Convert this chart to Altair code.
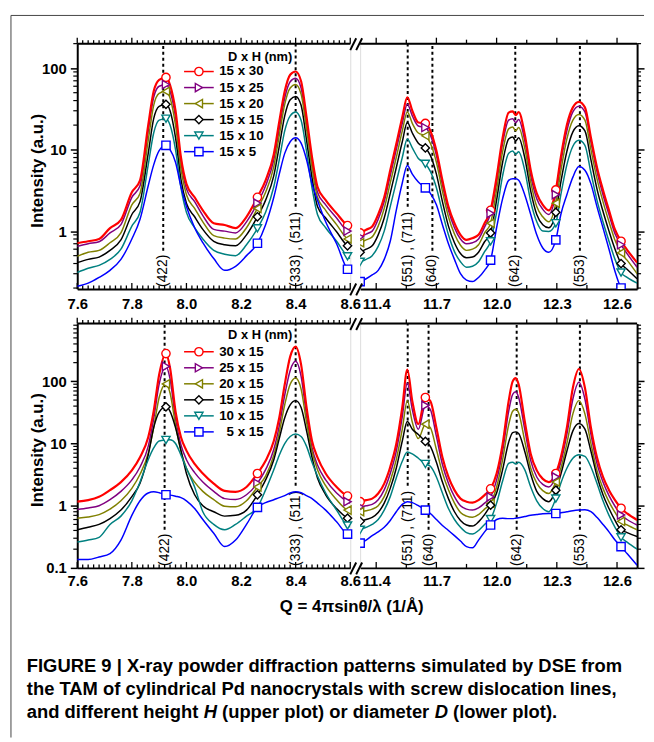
import altair as alt
import pandas as pd

FONT = "Liberation Sans, Arial, Helvetica, sans-serif"

# ---------------- text / categories ----------------
LEGEND_TOP = ["15 x 30", "15 x 25", "15 x 20", "15 x 15", "15 x 10", "15 x 5"]
LEGEND_BOTTOM = ["30 x 15", "25 x 15", "20 x 15", "15 x 15", "10 x 15", "5 x 15"]
LEGEND_TITLE = "D x H (nm)"
COLORS = ["#ff0000", "#800080", "#808000", "#000000", "#008080", "#0000ff"]
SHAPES = ["circle", "triangle-right", "triangle-left", "diamond", "triangle-down", "square"]
X_TITLE = "Q = 4\u03c0sin\u03b8/\u03bb (1/\u00c5)"
Y_TITLE = "Intensity (a.u.)"
CAPTION_1 = "FIGURE 9 | X-ray powder diffraction patterns simulated by DSE from"
CAPTION_2 = "the TAM of cylindrical Pd nanocrystals with screw dislocation lines,"
CAPTION_3 = ["and different height ", "H", " (upper plot) or diameter ", "D", " (lower plot)."]

X_LABELS_LEFT = [7.6, 7.8, 8.0, 8.2, 8.4, 8.6]
X_LABELS_RIGHT = [11.4, 11.7, 12.0, 12.3, 12.6]
Y_LABELS_TOP = [1, 10, 100]
Y_LABELS_BOTTOM = [0.1, 1, 10, 100]

PEAK_LABELS_LEFT = ["(422)", "(333) , (511)"]
PEAK_LABELS_RIGHT = ["(551) , (711)", "(640)", "(642)", "(553)"]
PEAK_Q_TOP_LEFT = [7.915, 8.40]
PEAK_Q_TOP_RIGHT = [11.557, 11.68, 12.093, 12.415]
PEAK_Q_BOT_LEFT = [7.92, 8.40]
PEAK_Q_BOT_RIGHT = [11.557, 11.661, 12.10, 12.415]

# ---------------- x grids ----------------
Q_LEFT = [7.60, 7.64, 7.68, 7.72, 7.76, 7.80, 7.83, 7.86, 7.88, 7.90, 7.925, 7.94, 7.96, 7.98,
          8.00, 8.03, 8.06, 8.10, 8.14, 8.18, 8.22, 8.26, 8.29, 8.32, 8.34, 8.36, 8.38, 8.40,
          8.42, 8.44, 8.46, 8.48, 8.51, 8.55, 8.59, 8.60]
Q_RIGHT = [11.32, 11.35, 11.38, 11.41, 11.44, 11.47, 11.50, 11.53, 11.555, 11.58, 11.61, 11.645,
           11.67, 11.70, 11.73, 11.76, 11.79, 11.82, 11.85, 11.88, 11.91, 11.94, 11.97, 12.00,
           12.03, 12.06, 12.08, 12.095, 12.11, 12.14, 12.17, 12.20, 12.23, 12.26, 12.295, 12.32,
           12.35, 12.38, 12.41, 12.44, 12.47, 12.50, 12.53, 12.56, 12.59, 12.62, 12.65, 12.70]
MARKERS_LEFT = [7.925, 8.26, 8.59]
MARKERS_RIGHT = [11.32, 11.645, 11.97, 12.295, 12.62]

# ---------------- upper plot (D = 15 nm, varying H) ----------------
TL_RED = [0.71, 0.75, 0.80, 1.09, 1.37, 3.0, 4.2, 20, 52, 72, 77, 62, 30, 8, 3.8, 2.6, 1.8, 1.25,
          1.19, 1.09, 1.5, 2.6, 4.2, 8.8, 22, 52, 83, 91, 69, 25, 8.1, 3.5, 2.4, 1.65, 1.17, 1.12]
TL_PURPLE = [0.65, 0.70, 0.74, 0.95, 1.2, 2.6, 3.6, 17, 44, 60, 63, 52, 25, 7, 3.3, 2.3, 1.55, 1.05,
             1.0, 0.95, 1.3, 2.2, 3.6, 7.5, 18, 43, 68, 75, 57, 21, 7, 3.0, 2.1, 1.45, 1.0, 0.97]
TL_OLIVE = [0.49, 0.55, 0.58, 0.72, 0.95, 2.1, 2.9, 13, 35, 49, 52, 43, 20, 5.8, 2.8, 1.9, 1.3, 0.88,
            0.82, 0.80, 1.1, 1.9, 3.0, 6.2, 15, 36, 57, 63, 48, 18, 6, 2.6, 1.8, 1.2, 0.8, 0.77]
TL_BLACK = [0.41, 0.45, 0.48, 0.58, 0.78, 1.6, 2.3, 9, 24, 34, 36, 30, 14, 4.3, 2.2, 1.5, 1.05, 0.75,
            0.68, 0.66, 0.9, 1.5, 2.4, 4.8, 11, 26, 41, 45, 35, 13, 4.5, 2.0, 1.45, 0.98, 0.66, 0.63]
TL_TEAL = [0.31, 0.35, 0.38, 0.45, 0.6, 1.15, 1.7, 6.5, 16, 23, 24, 20, 10, 3.4, 1.7, 1.1, 0.8, 0.58,
           0.52, 0.5, 0.68, 1.08, 1.7, 3.5, 7.5, 17, 26, 29, 23, 9.5, 3.4, 1.6, 1.1, 0.75, 0.49, 0.46]
TL_BLUE = [0.21, 0.23, 0.27, 0.33, 0.45, 0.8, 1.4, 3.6, 6.5, 9.7, 11.3, 10, 7, 3.5, 2.0, 1.1, 0.72, 0.46,
           0.33, 0.37, 0.5, 0.71, 1.2, 2.6, 5, 9, 12.5, 14, 12, 7.5, 3.8, 2.4, 1.3, 0.7, 0.34, 0.32]

TR_RED = [0.95, 1.04, 1.14, 1.6, 2.6, 5.6, 11.7, 25, 44, 30, 21.5, 21, 17, 9.7, 4.2, 2.0, 1.25, 0.9,
          0.78, 0.82, 0.9, 1.25, 1.8, 4.6, 14, 28.5, 29.5, 26.5, 29, 15.5, 5.6, 2.9, 2.1, 1.8, 3.2,
          8.1, 20, 33, 38.5, 33, 14, 6.1, 3.2, 1.8, 1.04, 0.75, 0.59, 0.41]
TR_PURPLE = [0.85, 0.92, 1.0, 1.4, 2.3, 4.8, 10, 21, 36, 26, 19.5, 18.7, 15, 8.5, 3.7, 1.8, 1.1, 0.8,
             0.7, 0.72, 0.8, 1.12, 1.65, 4.0, 12, 23, 24, 21.5, 23.5, 13, 4.8, 2.5, 1.85, 1.6, 2.8,
             7, 17, 29, 34, 29, 12.5, 5.4, 2.8, 1.6, 0.93, 0.68, 0.53, 0.36]
TR_OLIVE = [0.72, 0.78, 0.85, 1.15, 1.9, 3.9, 8, 17, 29, 21, 16, 14.8, 12, 7, 3.1, 1.5, 0.92, 0.67,
            0.58, 0.6, 0.68, 0.95, 1.25, 3.2, 9.5, 18, 19, 17, 18.7, 10.5, 4.0, 2.0, 1.5, 1.3, 2.2,
            5.5, 13.5, 23, 27, 23, 10, 4.4, 2.3, 1.3, 0.77, 0.54, 0.44, 0.30]
TR_BLACK = [0.55, 0.60, 0.66, 0.9, 1.45, 2.9, 6, 12.5, 21.5, 16, 12, 10.5, 8.5, 5, 2.3, 1.15, 0.72, 0.53,
            0.47, 0.48, 0.55, 0.74, 0.95, 2.4, 7, 13.5, 14.3, 12.8, 14, 8, 3.1, 1.6, 1.2, 1.1, 1.7,
            4.0, 9.5, 16.5, 19.6, 17, 7.5, 3.3, 1.75, 1.0, 0.6, 0.40, 0.34, 0.26]
TR_TEAL = [0.42, 0.45, 0.50, 0.65, 1.0, 2.0, 4.0, 8.0, 13.5, 10.5, 7.8, 6.7, 5.4, 3.4, 1.7, 0.9, 0.56, 0.42,
           0.36, 0.37, 0.42, 0.56, 0.75, 1.7, 4.8, 9.0, 9.6, 8.8, 9.4, 5.6, 2.3, 1.3, 1.0, 0.99, 1.25,
           2.8, 6.5, 11, 13, 11.3, 5.2, 2.4, 1.3, 0.75, 0.45, 0.31, 0.27, 0.23]
TR_BLUE = [0.24, 0.26, 0.29, 0.33, 0.45, 0.75, 1.8, 3.9, 6.4, 5.0, 4.0, 3.4, 2.9, 2.1, 1.2, 0.7, 0.45, 0.3,
           0.25, 0.24, 0.27, 0.33, 0.44, 1.1, 2.5, 4.2, 4.4, 4.4, 4.2, 2.8, 1.6, 0.9, 0.62, 0.55, 0.78,
           1.6, 2.8, 4.6, 6.2, 5.6, 3.8, 2.0, 1.1, 0.6, 0.32, 0.20, 0.17, 0.15]

# ---------------- lower plot (H = 15 nm, varying D) ----------------
BL_RED = [1.16, 1.23, 1.39, 1.78, 2.4, 3.7, 6.0, 12.6, 33, 128, 280, 164, 33, 12.6, 7.7, 4.7, 3.3, 2.27,
          1.73, 1.67, 2.0, 3.3, 5.3, 11, 26, 89, 250, 363, 186, 38, 11, 6.0, 3.3, 2.0, 1.43, 1.38]
BL_PURPLE = [0.87, 0.92, 1.0, 1.25, 1.7, 2.6, 4.2, 9, 25, 90, 174, 110, 25, 9.5, 5.5, 3.4, 2.4, 1.7,
             1.3, 1.26, 1.5, 2.3, 3.8, 8, 19, 60, 150, 210, 120, 28, 8.5, 4.5, 2.6, 1.6, 1.16, 1.1]
BL_OLIVE = [0.63, 0.66, 0.72, 0.88, 1.2, 1.9, 3.2, 7, 18, 55, 91, 65, 20, 7.5, 4.0, 2.4, 1.7, 1.25,
            0.98, 0.96, 1.2, 2.0, 3.0, 6.5, 15, 42, 90, 113, 75, 22, 7.5, 3.8, 2.1, 1.25, 0.85, 0.82]
BL_BLACK = [0.41, 0.45, 0.5, 0.62, 0.85, 1.4, 2.3, 6.5, 18, 32, 39, 33, 18, 7.7, 3.3, 1.5, 1.0, 0.8,
            0.68, 0.7, 0.85, 1.5, 2.6, 5.5, 12, 26, 42, 49, 38, 16, 6, 2.8, 1.5, 0.9, 0.63, 0.6]
BL_TEAL = [0.26, 0.28, 0.31, 0.5, 0.68, 1.2, 2.4, 5.5, 8.5, 11, 11.4, 11.5, 10, 6.5, 4.0, 2.0, 0.8, 0.5,
           0.41, 0.5, 0.68, 0.94, 1.8, 3.8, 6.5, 10, 13, 14.2, 13, 9, 5, 3.0, 1.6, 0.85, 0.48, 0.46]
BL_BLUE = [0.136, 0.136, 0.15, 0.17, 0.28, 0.7, 1.2, 1.6, 1.67, 1.62, 1.5, 1.48, 1.42, 1.35, 1.2, 0.9,
           0.6, 0.36, 0.22, 0.28, 0.5, 0.94, 1.12, 1.25, 1.35, 1.45, 1.6, 1.67, 1.62, 1.45, 1.3, 1.1,
           0.85, 0.55, 0.35, 0.34]

BR_RED = [1.16, 1.23, 1.3, 1.57, 2.27, 4.2, 9.8, 38, 154, 48, 20.5, 55, 48, 18, 6.0, 2.9, 1.78, 1.3,
          1.16, 1.12, 1.23, 1.48, 1.87, 3.3, 9.8, 48, 100, 113, 89, 23, 6.8, 3.7, 2.7, 2.4, 3.3, 6.0,
          18, 79, 158, 79, 18, 6.0, 2.9, 1.78, 1.23, 0.91, 0.75, 0.59]
BR_PURPLE = [0.96, 1.0, 1.05, 1.25, 1.8, 3.3, 7.5, 27, 94, 35, 17, 41, 35, 13, 4.6, 2.3, 1.4, 1.0,
             0.88, 0.85, 0.92, 1.1, 1.39, 2.6, 7.5, 33, 62, 68, 55, 17, 5.3, 2.9, 2.2, 2.0, 2.9, 5,
             14, 52, 97, 52, 14, 4.8, 2.4, 1.45, 0.98, 0.71, 0.6, 0.49]
BR_OLIVE = [0.8, 0.83, 0.88, 1.0, 1.4, 2.5, 5.5, 17, 49, 22, 12, 20.5, 18, 8, 3.4, 1.8, 1.1, 0.78,
            0.68, 0.65, 0.72, 0.88, 1.09, 2.0, 5.5, 20, 33, 35.5, 31, 11, 4.0, 2.3, 1.75, 1.57, 2.4,
            4.0, 10, 30, 49, 30, 10, 3.7, 1.9, 1.15, 0.78, 0.56, 0.49, 0.41]
BR_BLACK = [0.56, 0.6, 0.65, 0.78, 1.1, 1.9, 4.0, 11, 22.6, 17, 14, 10.8, 9, 5, 2.4, 1.3, 0.8, 0.58,
            0.49, 0.47, 0.55, 0.72, 1.02, 1.6, 3.8, 10.5, 15, 15.4, 14.5, 7.5, 3.2, 1.7, 1.3, 1.16,
            1.78, 3.2, 7.5, 16, 21, 17, 7.5, 3.0, 1.5, 0.9, 0.58, 0.41, 0.37, 0.32]
BR_TEAL = [0.41, 0.45, 0.5, 0.6, 0.85, 1.4, 2.8, 5.2, 7.3, 6.8, 5.8, 4.7, 4.3, 2.9, 1.6, 0.9, 0.6, 0.45,
           0.37, 0.35, 0.4, 0.5, 0.61, 1.1, 2.5, 4.8, 5.0, 4.7, 5.0, 3.8, 2.0, 1.2, 0.9, 0.8, 1.3, 2.3,
           4.0, 5.8, 6.6, 6.2, 4.2, 2.3, 1.2, 0.7, 0.45, 0.31, 0.26, 0.20]
BR_BLUE = [0.25, 0.28, 0.33, 0.38, 0.45, 0.58, 0.8, 1.05, 1.16, 1.12, 1.0, 0.85, 0.75, 0.6, 0.48, 0.4,
           0.33, 0.27, 0.22, 0.21, 0.28, 0.38, 0.49, 0.6, 0.63, 0.62, 0.62, 0.63, 0.64, 0.67, 0.7, 0.72,
           0.74, 0.75, 0.75, 0.77, 0.8, 0.83, 0.85, 0.86, 0.8, 0.65, 0.5, 0.38, 0.28, 0.22, 0.17, 0.11]

# ---------------- layout ----------------
KEYS = ["s0", "s1", "s2", "s3", "s4", "s5"]
W_L, W_R, GAP = 276, 280, 10
H_T, H_B, VGAP = 248, 247, 35
X_DOM_LEFT = [7.6, 8.6]
X_DOM_RIGHT = [11.32, 12.70]
Y_DOM_TOP = [0.195, 200]
Y_DOM_BOTTOM = [0.1, 850]

ONE = pd.DataFrame({"a": [0]})
COLOR = alt.Color("k:N", scale=alt.Scale(domain=KEYS, range=COLORS), legend=None)
SHAPE = alt.Shape("k:N", scale=alt.Scale(domain=KEYS, range=SHAPES), legend=None)

ARIAL_B = {"a": 556, "b": 611, "c": 556, "d": 611, "e": 556, "f": 333, "g": 611, "h": 611, "i": 278,
           "l": 278, "m": 889, "n": 611, "o": 611, "p": 611, "r": 389, "s": 556, "t": 333, "u": 611,
           "w": 778, "x": 556, "y": 556, " ": 278, "(": 333, ")": 333, ".": 278, "H": 722, "D": 722}


def text_w(s, size, table=None):
    if table is None:
        table = {"(": 333, ")": 333, ",": 278, " ": 278}
    return sum(table.get(c, 556) for c in s) * size / 1000.0


def long_df(q, curves, markers):
    rows = []
    for k, vals in enumerate(curves):
        assert len(vals) == len(q), (k, len(vals), len(q))
        for qq, v in zip(q, vals):
            rows.append({"Q": qq, "I": v, "k": KEYS[k], "m": qq in markers})
    return pd.DataFrame(rows)


def txt(s, x, y, size, weight="bold", align="left", style="normal", baseline="middle"):
    return alt.Chart(ONE).mark_text(text=s, align=align, baseline=baseline, font=FONT, fontSize=size,
                                    fontWeight=weight, fontStyle=style, color="black").encode(
        x=alt.value(x), y=alt.value(y))


def seg(x, y, x2, y2, w=2.0, color="black"):
    return alt.Chart(ONE).mark_rule(color=color, strokeWidth=w).encode(
        x=alt.value(x), y=alt.value(y), x2=alt.value(x2), y2=alt.value(y2))


def minor_log(dom):
    out = []
    for e in (-1, 0, 1, 2):
        for m in range(2, 10):
            v = m * 10 ** e
            if dom[0] <= v <= dom[1]:
                out.append(v)
    return out


def panel(side, q, curves, markers, ydom, ylabels, peaks_q, H, legend_labels=None,
          legend_align="left", legend_x=0, leg_title_y=0, leg_row0=0, label_pad=8, extra=None):
    W = W_L if side == "left" else W_R
    xdom = X_DOM_LEFT if side == "left" else X_DOM_RIGHT
    xlabels = X_LABELS_LEFT if side == "left" else X_LABELS_RIGHT
    peak_labels = PEAK_LABELS_LEFT if side == "left" else PEAK_LABELS_RIGHT
    if side == "left":
        xt_all = [round(7.6 + 0.02 * i, 2) for i in range(51)]
    else:
        xt_all = [round(11.4 + 0.15 * i, 2) for i in range(9)]

    df = long_df(q, curves, markers)
    X = alt.X("Q:Q", scale=alt.Scale(domain=xdom, nice=False, zero=False),
              axis=alt.Axis(values=xlabels, format=".1f", ticks=False, tickSize=0, domainWidth=2,
                            domainColor="black", labelFont=FONT, labelFontSize=15,
                            labelFontWeight="bold", labelColor="black", labelPadding=label_pad,
                            labelFlush=False, labelOverlap=False, grid=False, title=None))
    if side == "left":
        yax = alt.Axis(values=ylabels, format="~g", orient="left", tickSize=7, tickWidth=1.5,
                       tickColor="black", domainWidth=2, domainColor="black", labelFont=FONT,
                       labelFontSize=15, labelFontWeight="bold", labelColor="black", labelPadding=4,
                       grid=False, title=Y_TITLE, titleFont=FONT, titleFontSize=17,
                       titleFontWeight="bold", titleColor="black", titleX=-40, titleY=H / 2 + 4,
                       titleBaseline="middle", titleAlign="center")
    else:
        yax = alt.Axis(values=ylabels, orient="right", labels=False, tickSize=7, tickWidth=1.5,
                       tickColor="black", domainWidth=2, domainColor="black", grid=False, title=None)
    Y = alt.Y("I:Q", scale=alt.Scale(type="log", domain=ydom, nice=False), axis=yax)

    layers = []
    layers.append(alt.Chart(ONE).mark_rule(color="black", strokeWidth=2).encode(
        x=alt.value(0), x2=alt.value(W), y=alt.value(0)))
    tdf = pd.DataFrame({"Q": xt_all})
    tdf["major"] = [any(abs(v - m) < 1e-9 for m in xlabels) for v in xt_all]
    small = 3.5 if side == "left" else 4
    layers.append(alt.Chart(tdf).transform_calculate(ty=f"datum.major ? -6 : -{small}").mark_rule(
        color="black", strokeWidth=1.3).encode(x=X, y=alt.Y("ty:Q", scale=None), y2=alt.value(0)))
    layers.append(alt.Chart(tdf).transform_calculate(ty=f"datum.major ? {H - 6} : {H - small}").mark_rule(
        color="black", strokeWidth=1.3).encode(x=X, y=alt.Y("ty:Q", scale=None), y2=alt.value(H)))
    ydf = pd.DataFrame({"I": minor_log(ydom)})
    if side == "left":
        layers.append(alt.Chart(ydf).transform_calculate(tx="-4").mark_rule(
            color="black", strokeWidth=1.2).encode(x=alt.X("tx:Q", scale=None), x2=alt.value(0), y=Y))
    else:
        layers.append(alt.Chart(ydf).transform_calculate(tx=str(W + 4)).mark_rule(
            color="black", strokeWidth=1.2).encode(x=alt.X("tx:Q", scale=None), x2=alt.value(W), y=Y))
    pdf = pd.DataFrame({"Q": peaks_q, "lab": peak_labels})
    pdf["yend"] = [H - 2 - text_w(l, 14) - 4 for l in peak_labels]
    layers.append(alt.Chart(pdf).mark_rule(color="black", strokeWidth=2, strokeDash=[3, 3]).encode(
        x=X, y=alt.Y("yend:Q", scale=None), y2=alt.value(0)))
    layers.append(alt.Chart(pdf).mark_text(angle=270, align="left", baseline="middle", font=FONT,
                                           fontSize=14, color="black").encode(
        x=X, y=alt.value(H - 2), text="lab:N"))
    layers.append(alt.Chart(df).transform_filter("datum.k != 's0'").mark_line(
        clip=True, strokeWidth=1.5, interpolate="monotone").encode(x=X, y=Y, color=COLOR))
    layers.append(alt.Chart(df).transform_filter("datum.k == 's0'").mark_line(
        clip=True, strokeWidth=2.2, interpolate="monotone").encode(x=X, y=Y, color=COLOR))
    layers.append(alt.Chart(df).transform_filter("datum.m").mark_point(
        filled=False, fill="white", fillOpacity=1, size=70, strokeWidth=1.4, opacity=1,
        clip=(side == "right")).encode(x=X, y=Y, color=COLOR, shape=SHAPE))

    if side == "right":
        for yy in (0, H):
            layers.append(seg(-10, yy + 6.5, -4, yy - 5.5))
            layers.append(seg(-4, yy + 6.5, 2, yy - 5.5))

    if legend_labels is not None:
        ldf = pd.DataFrame({"k": KEYS, "lab": legend_labels, "idx": list(range(6))})
        lb = alt.Chart(ldf).transform_calculate(py=f"{leg_row0} + datum.idx * 16.2")
        layers.append(lb.mark_rule(strokeWidth=1.5).encode(
            x=alt.value(108), x2=alt.value(138), y=alt.Y("py:Q", scale=None), color=COLOR))
        layers.append(lb.mark_point(filled=False, fill="white", fillOpacity=1, size=70,
                                    strokeWidth=1.4, opacity=1).encode(
            x=alt.value(123), y=alt.Y("py:Q", scale=None), color=COLOR, shape=SHAPE))
        layers.append(lb.mark_text(align=legend_align, baseline="middle", font=FONT, fontSize=13.5,
                                   fontWeight="bold", color="black").encode(
            x=alt.value(legend_x), y=alt.Y("py:Q", scale=None), text="lab:N"))
        layers.append(txt(LEGEND_TITLE, 152.5, leg_title_y, 13))
    if extra:
        layers.extend(extra)
    return alt.layer(*layers).properties(width=W, height=H)


frame = [
    alt.Chart(ONE).mark_rule(color="#444", strokeWidth=1).encode(
        x=alt.value(-67), y=alt.value(-28.5), y2=alt.value(701.5)),
    alt.Chart(ONE).mark_rule(color="#444", strokeWidth=1).encode(
        x=alt.value(-67), x2=alt.value(573), y=alt.value(-28.5)),
]

CAP_X, CAP_SIZE = -51, 18.6
parts = CAPTION_3
x_H = CAP_X + text_w(parts[0], CAP_SIZE, ARIAL_B)
x_s3 = x_H + text_w("H ", CAP_SIZE, ARIAL_B)
x_D = x_H + text_w("H" + parts[2], CAP_SIZE, ARIAL_B)
x_s5 = x_D + text_w("D ", CAP_SIZE, ARIAL_B)
captions = [
    txt(X_TITLE, 277.5, 286.5, 17, align="center"),
    txt(CAPTION_1, CAP_X, 346.5, CAP_SIZE),
    txt(CAPTION_2, CAP_X, 369.5, CAP_SIZE),
    txt(parts[0].strip(), CAP_X, 392.5, CAP_SIZE),
    txt(parts[1], x_H, 392.5, CAP_SIZE, style="italic"),
    txt(parts[2].strip(), x_s3, 392.5, CAP_SIZE),
    txt(parts[3], x_D, 392.5, CAP_SIZE, style="italic"),
    txt(parts[4].strip(), x_s5, 392.5, CAP_SIZE),
]

tl = panel("left", Q_LEFT, [TL_RED, TL_PURPLE, TL_OLIVE, TL_BLACK, TL_TEAL, TL_BLUE], MARKERS_LEFT,
           Y_DOM_TOP, Y_LABELS_TOP, PEAK_Q_TOP_LEFT, H_T, legend_labels=LEGEND_TOP,
           legend_align="left", legend_x=143.5, leg_title_y=13.5, leg_row0=28.2, label_pad=8,
           extra=frame)
tr = panel("right", Q_RIGHT, [TR_RED, TR_PURPLE, TR_OLIVE, TR_BLACK, TR_TEAL, TR_BLUE], MARKERS_RIGHT,
           Y_DOM_TOP, Y_LABELS_TOP, PEAK_Q_TOP_RIGHT, H_T, label_pad=8)
bl = panel("left", Q_LEFT, [BL_RED, BL_PURPLE, BL_OLIVE, BL_BLACK, BL_TEAL, BL_BLUE], MARKERS_LEFT,
           Y_DOM_BOTTOM, Y_LABELS_BOTTOM, PEAK_Q_BOT_LEFT, H_B, legend_labels=LEGEND_BOTTOM,
           legend_align="right", legend_x=188.5, leg_title_y=11.5, leg_row0=28.5, label_pad=6,
           extra=captions)
br = panel("right", Q_RIGHT, [BR_RED, BR_PURPLE, BR_OLIVE, BR_BLACK, BR_TEAL, BR_BLUE], MARKERS_RIGHT,
           Y_DOM_BOTTOM, Y_LABELS_BOTTOM, PEAK_Q_BOT_RIGHT, H_B, label_pad=6)

chart = alt.concat(tl, tr, bl, br, columns=2, bounds="flush", align="each",
                   spacing=alt.RowColnumber(row=VGAP, column=GAP)).properties(
    padding={"left": 2, "top": 2, "right": 0, "bottom": 0}
).configure_view(stroke=None).configure(font=FONT, background="white")

chart.save("out.html", embed_options={"renderer": "svg", "actions": False})
